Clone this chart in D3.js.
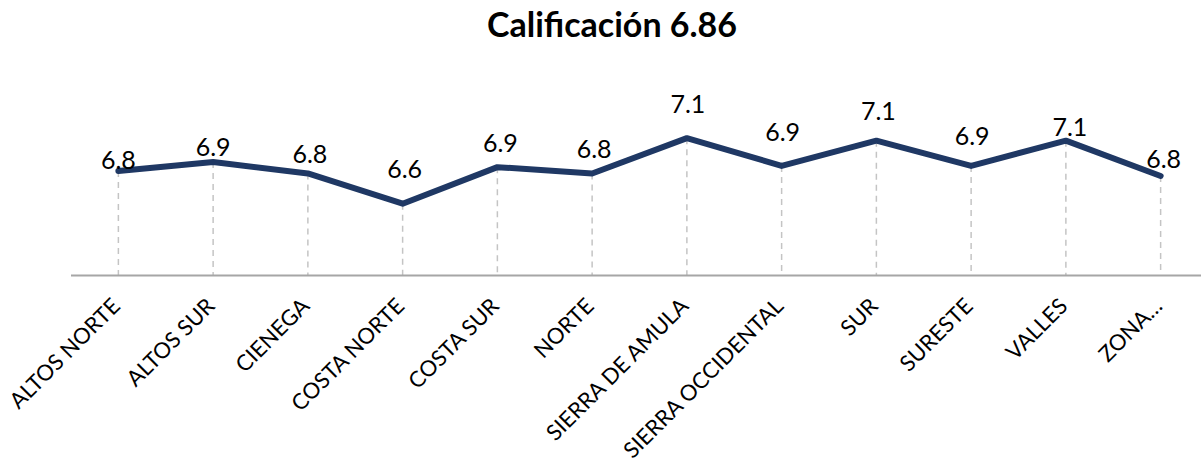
<!DOCTYPE html>
<html>
<head>
<meta charset="utf-8">
<script src="https://cdn.jsdelivr.net/npm/d3@7"></script>
<style>
  body { margin: 0; background: #fff; }
  svg { display: block; font-family: Lato, "Open Sans", sans-serif; }
</style>
</head>
<body>
<svg id="chart"></svg>
<script>
const regions = ["ALTOS NORTE", "ALTOS SUR", "CIENEGA", "COSTA NORTE", "COSTA SUR", "NORTE",
  "SIERRA DE AMULA", "SIERRA OCCIDENTAL", "SUR", "SURESTE", "VALLES", "ZONA…"];
const scores = [6.83, 6.90, 6.81, 6.57, 6.86, 6.81, 7.09, 6.87, 7.07, 6.87, 7.07, 6.79];
// label nudges (px, relative to the point), as placed in the original
const labelNudge = [-2, -6, -10, -26, -15, -15, -25, -25, -21, -21, -5, -8];
const labelShiftX = [0, 0, 2, 2, 3, 2, 1, 1, 2, 1, 4, 3];
const title = "Calificación 6.86";

const width = 1201, height = 466;
const margin = { top: 24, right: -7, bottom: 190, left: 71 };

const svg = d3.select("#chart").attr("width", width).attr("height", height);

const x = d3.scaleBand()
  .domain(regions)
  .range([margin.left, width - margin.right]);

const y = d3.scaleLinear()
  .domain([6, 8])
  .range([height - margin.bottom - 0.5, margin.top - 0.5]);

const cx = d => x(d) + x.bandwidth() / 2;
const baseY = y(6);

// title
svg.append("text")
  .attr("x", 612)
  .attr("y", 37)
  .attr("text-anchor", "middle")
  .style("font-size", "34px")
  .style("font-weight", "bold")
  .style("fill", "#000")
  .text(title);

// dashed drop lines
svg.append("g")
  .selectAll("line")
  .data(regions)
  .join("line")
  .attr("x1", d => cx(d))
  .attr("x2", d => cx(d))
  .attr("y1", (d, i) => y(scores[i]))
  .attr("y2", baseY)
  .attr("stroke", "#c4c4c4")
  .attr("stroke-width", 1.5)
  .attr("stroke-dasharray", "6,5");

// axis line
svg.append("line")
  .attr("x1", margin.left)
  .attr("x2", width)
  .attr("y1", baseY)
  .attr("y2", baseY)
  .attr("stroke", "#a6a6a6")
  .attr("stroke-width", 2);

// the line
const line = d3.line()
  .x((d, i) => cx(regions[i]))
  .y(d => y(d));

svg.append("path")
  .datum(scores)
  .attr("d", line)
  .attr("fill", "none")
  .attr("stroke", "#1f3864")
  .attr("stroke-width", 6)
  .attr("stroke-linejoin", "round")
  .attr("stroke-linecap", "round");

// data labels
svg.append("g")
  .selectAll("text")
  .data(scores)
  .join("text")
  .attr("x", (d, i) => cx(regions[i]) + labelShiftX[i])
  .attr("y", (d, i) => y(d) + labelNudge[i])
  .attr("text-anchor", "middle")
  .style("font-size", "25px")
  .style("fill", "#000")
  .text(d => d.toFixed(1));

// category labels, rotated
svg.append("g")
  .selectAll("text")
  .data(regions)
  .join("text")
  .attr("text-anchor", "end")
  .attr("transform", d => `translate(${cx(d) + 3},${baseY + 32}) rotate(-45)`)
  .style("font-size", "22px")
  .style("fill", "#000")
  .text(d => d);
</script>
</body>
</html>
